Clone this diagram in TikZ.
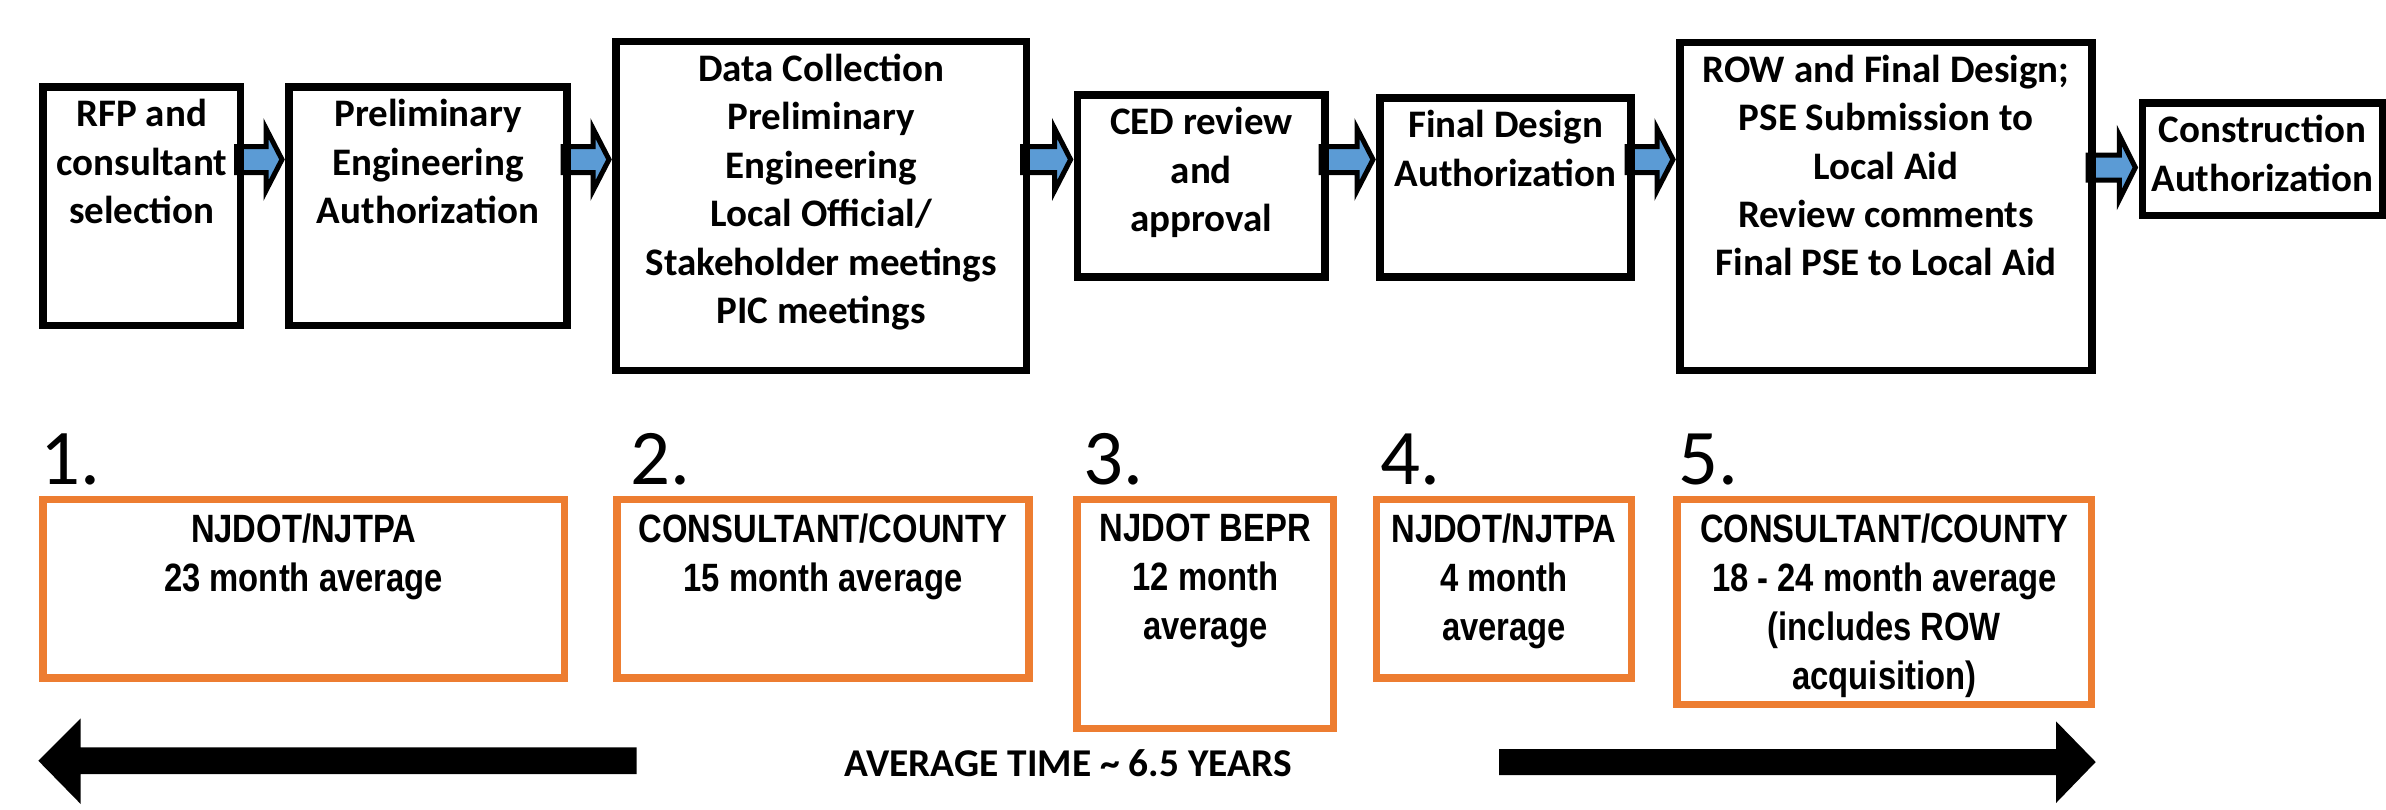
\documentclass[tikz,border=0pt]{standalone}
\usepackage{fontspec}
\setmainfont{Carlito}
\newfontfamily\narrowfont[FakeStretch=0.83]{Liberation Sans}
\usetikzlibrary{calc}
\pgfdeclarelayer{bg}
\pgfsetlayers{bg,main}
\definecolor{orangeC}{HTML}{ED7D31}
\definecolor{arrowblue}{HTML}{5B9BD5}
\tikzset{
  blackbox/.style={draw=black, line width=3.75pt, rectangle, inner sep=0pt, outer sep=0pt},
  orangebox/.style={draw=orangeC, line width=3.75pt, rectangle, inner sep=0pt, outer sep=0pt},
  boxtext/.style={anchor=north, inner sep=0pt, align=center,
    font=\bfseries\fontsize{19.5}{24.2}\selectfont, execute at begin node=\strut},
  periodtext/.style={anchor=north, inner sep=0pt, align=center,
    font=\narrowfont\bfseries\fontsize{19.75}{24.5}\selectfont, execute at begin node=\strut},
  stepnum/.style={anchor=base west, inner sep=0pt, font=\fontsize{39.4}{47}\selectfont},
  totaltext/.style={anchor=base, inner sep=0pt, font=\bfseries\fontsize{19.7}{24}\selectfont},
  flowarr/.style={draw=black, fill=arrowblue, line width=2.5pt, line join=miter},
  bigarr/.style={fill=black, draw=none}
}
\newcommand\flowarrow[5]{%
  \path (#1.east |- 0,#3) coordinate (#1-out) (#2.west |- 0,#3) coordinate (#2-in);
  \begin{pgfonlayer}{bg}
  \draw[flowarr] ($(#1-out)+(-4,-#4)$) -- ($(#2-in)+(-23,-#4)$) -- ($(#2-in)+(-23,-#5)$)
    -- ($(#2-in)+(-7,0)$) -- ($(#2-in)+(-23,#5)$) -- ($(#2-in)+(-23,#4)$)
    -- ($(#1-out)+(-4,#4)$) -- cycle;
  \end{pgfonlayer}}
\begin{document}
\begin{tikzpicture}[x=0.5pt, y=-0.5pt]
\begin{pgfonlayer}{bg}
  \fill[white] (0,0) rectangle (2386,809);
\end{pgfonlayer}
\useasboundingbox (0,0) rectangle (2386,809);

% process boxes
\node[blackbox, minimum width=98.75pt, minimum height=119.25pt] (b1) at (141.75,206.25) {};
\node[blackbox, minimum width=139pt, minimum height=119.25pt] (b2) at (428,206.25) {};
\node[blackbox, minimum width=205.25pt, minimum height=164.4pt] (b3) at (821.25,205.9) {};
\node[blackbox, minimum width=123.7pt, minimum height=91pt] (b4) at (1201.3,186) {};
\node[blackbox, minimum width=125.5pt, minimum height=89.5pt] (b5) at (1505.5,187.5) {};
\node[blackbox, minimum width=206pt, minimum height=164.1pt] (b6) at (1886,206.6) {};
\node[blackbox, minimum width=120.1pt, minimum height=56.35pt] (b7) at (2262.4,159.35) {};

\node[boxtext] (t1) at ($(b1.north)+(0,12.1)$) {RFP and\\consultant\\selection};
\node[boxtext] (t2) at ($(b2.north)+(0,12.1)$) {Preliminary\\Engineering\\Authorization};
\node[boxtext] (t3) at ($(b3.north)+(0,12.1)$) {Data Collection\\Preliminary\\Engineering\\Local Official/\\Stakeholder meetings\\PIC meetings};
\node[boxtext] (t4) at ($(b4.north)+(0,12.1)$) {CED review\\and\\approval};
\node[boxtext] (t5) at ($(b5.north)+(0,12.1)$) {Final Design\\Authorization};
\node[boxtext] (t6) at ($(b6.north)+(0,12.1)$) {ROW and Final Design;\\PSE Submission to\\Local Aid\\Review comments\\Final PSE to Local Aid};
\node[boxtext] (t7) at ($(b7.north)+(0,12.1)$) {Construction\\Authorization};

% blue connectors
\flowarrow{b1}{b2}{159.5}{13}{31}
\flowarrow{b2}{b3}{159.5}{13}{31}
\flowarrow{b3}{b4}{159.5}{13}{31}
\flowarrow{b4}{b5}{159.5}{13}{31}
\flowarrow{b5}{b6}{159.5}{13}{31}
\flowarrow{b6}{b7}{167.5}{12.5}{32}

% phase numbers
\node[stepnum] (n1) at (40,484) {1.};
\node[stepnum] (n2) at (630,484) {2.};
\node[stepnum] (n3) at (1083,484) {3.};
\node[stepnum] (n4) at (1380,484) {4.};
\node[stepnum] (n5) at (1678,484) {5.};

% phase boxes
\node[orangebox, minimum width=260.85pt, minimum height=89.25pt] (o1) at (303.65,588.55) {};
\node[orangebox, minimum width=206pt, minimum height=89.25pt] (o2) at (823,588.55) {};
\node[orangebox, minimum width=128.35pt, minimum height=114.6pt] (o3) at (1205.35,613.9) {};
\node[orangebox, minimum width=127.3pt, minimum height=89.25pt] (o4) at (1504,588.55) {};
\node[orangebox, minimum width=207.35pt, minimum height=102.5pt] (o5) at (1884.35,601.8) {};

\node[periodtext] (p1) at ($(o1.north)+(0,14.4)$) {NJDOT/NJTPA\\23 month average};
\node[periodtext] (p2) at ($(o2.north)+(0,14.4)$) {CONSULTANT/COUNTY\\15 month average};
\node[periodtext] (p3) at ($(o3.north)+(0,14.4)$) {NJDOT BEPR\\12 month\\average};
\node[periodtext] (p4) at ($(o4.north)+(0,14.4)$) {NJDOT/NJTPA\\4 month\\average};
\node[periodtext] (p5) at ($(o5.north)+(0,14.4)$) {CONSULTANT/COUNTY\\18 - 24 month average\\(includes ROW\\acquisition)};

% total time
\node[totaltext] (total) at (1068,776.7) {AVERAGE TIME \textasciitilde{} 6.5 YEARS};
\coordinate (ltip) at (38.3,760.7);
\coordinate (rtip) at (2095.7,762);
\fill[bigarr] (636.7,747.3) -- (80.7,747.3) -- (80.7,718.3) -- (ltip) -- (80.7,804) -- (80.7,774) -- (636.7,774) -- cycle;
\fill[bigarr] (1499,749) -- (2056,749) -- (2056,721.3) -- (rtip) -- (2056,803) -- (2056,775) -- (1499,775) -- cycle;
\end{tikzpicture}
\end{document}
